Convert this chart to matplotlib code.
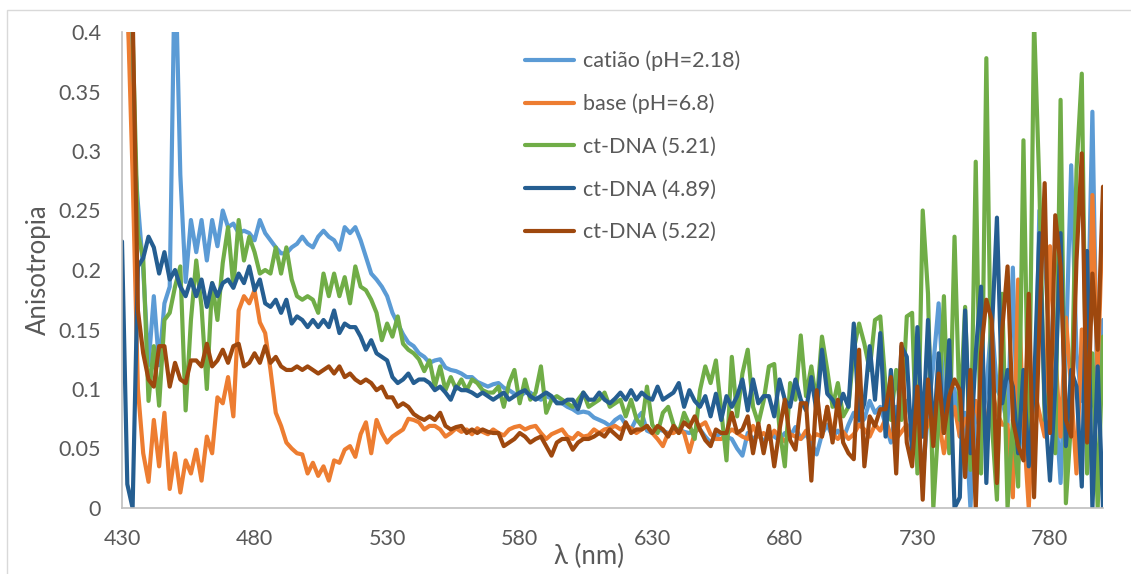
import matplotlib
matplotlib.use("Agg")
import matplotlib.pyplot as plt
import numpy as np
from matplotlib.patches import Rectangle

plt.rcParams['font.family'] = ['Lato', 'DejaVu Sans']

# wavelength grid, 2 nm steps from 430 to 800 nm
wavelength = np.arange(430, 801, 2)

catiao = [
    0.45, 0.43, 0.32, 0.256, 0.20, 0.12, 0.178, 0.12, 0.172, 0.186,
    0.47, 0.28, 0.19, 0.242, 0.215, 0.242, 0.208, 0.242, 0.22, 0.25,
    0.236, 0.239, 0.231, 0.233, 0.231, 0.225, 0.242, 0.231, 0.225, 0.219,
    0.214, 0.214, 0.219, 0.222, 0.228, 0.222, 0.219, 0.228, 0.233, 0.228,
    0.225, 0.217, 0.236, 0.231, 0.236, 0.225, 0.211, 0.197, 0.192, 0.186,
    0.178, 0.164, 0.155, 0.146, 0.139, 0.136, 0.13, 0.127, 0.122, 0.124,
    0.125, 0.118, 0.116, 0.115, 0.113, 0.11, 0.11, 0.106, 0.104, 0.102,
    0.104, 0.105, 0.101, 0.099, 0.096, 0.094, 0.097, 0.097, 0.093, 0.091,
    0.094, 0.092, 0.089, 0.088, 0.085, 0.083, 0.080, 0.081, 0.080, 0.076,
    0.074, 0.072, 0.069, 0.074, 0.077, 0.070, 0.066, 0.075, 0.080, 0.065,
    0.063, 0.066, 0.065, 0.063, 0.064, 0.066, 0.064, 0.063, 0.065, 0.066,
    0.06, 0.055, 0.060, 0.063, 0.060, 0.058, 0.05, 0.044, 0.063, 0.058,
    0.062, 0.055, 0.065, 0.06, 0.057, 0.063, 0.06, 0.068, 0.058, 0.062,
    0.055, 0.045, 0.062, 0.07, 0.06, 0.065, 0.058, 0.07, 0.08, 0.07,
    0.075, 0.09, 0.08, 0.085, 0.07, 0.055, 0.085, 0.075, 0.09, 0.07,
    0.08, 0.026, 0.08, 0.12, 0.172, 0.09, 0.07, 0.1, 0.06, 0.08,
    0.0, 0.088, 0.06, 0.1, 0.158, 0.1, 0.09, 0.07, 0.202, 0.037,
    0.09, 0.11, 0.037, 0.25, 0.216, 0.13, 0.09, 0.021, 0.13, 0.288,
    0.13, 0.09, 0.12, 0.333, 0.074, 0.158,
]

base = [
    0.45, 0.43, 0.28, 0.10, 0.046, 0.022, 0.074, 0.035, 0.080, 0.016,
    0.046, 0.013, 0.040, 0.029, 0.049, 0.023, 0.060, 0.046, 0.093, 0.088,
    0.11, 0.077, 0.166, 0.178, 0.172, 0.183, 0.156, 0.147, 0.116, 0.08,
    0.069, 0.055, 0.05, 0.046, 0.045, 0.029, 0.038, 0.027, 0.035, 0.023,
    0.040, 0.038, 0.049, 0.052, 0.043, 0.062, 0.072, 0.046, 0.074, 0.063,
    0.055, 0.060, 0.063, 0.066, 0.075, 0.074, 0.072, 0.066, 0.069, 0.069,
    0.066, 0.060, 0.063, 0.067, 0.064, 0.066, 0.062, 0.067, 0.064, 0.062,
    0.066, 0.063, 0.061, 0.066, 0.068, 0.069, 0.066, 0.068, 0.069, 0.063,
    0.058, 0.062, 0.064, 0.066, 0.060, 0.058, 0.063, 0.060, 0.061, 0.066,
    0.063, 0.066, 0.067, 0.069, 0.066, 0.069, 0.067, 0.063, 0.066, 0.069,
    0.063, 0.058, 0.052, 0.063, 0.063, 0.066, 0.063, 0.047, 0.063, 0.069,
    0.072, 0.062, 0.058, 0.058, 0.062, 0.066, 0.063, 0.060, 0.058, 0.069,
    0.060, 0.063, 0.058, 0.065, 0.060, 0.056, 0.062, 0.060, 0.058, 0.065,
    0.058, 0.062, 0.060, 0.085, 0.062, 0.058, 0.064, 0.058, 0.062, 0.07,
    0.066, 0.06, 0.07, 0.065, 0.075, 0.06, 0.058, 0.064, 0.07, 0.055,
    0.065, 0.06, 0.07, 0.08, 0.075, 0.046, 0.07, 0.085, 0.06, 0.075,
    0.07, 0.09, 0.06, 0.07, 0.1, 0.08, 0.07, 0.07, 0.009, 0.192,
    0.07, 0.0, 0.1, 0.08, 0.06, 0.22, 0.13, 0.06, 0.16, 0.1,
    0.029, 0.15, 0.05, 0.263, 0.11, 0.257,
]

dna_521 = [
    0.45, 0.44, 0.40, 0.23, 0.21, 0.09, 0.136, 0.086, 0.158, 0.164,
    0.186, 0.203, 0.082, 0.158, 0.208, 0.169, 0.10, 0.189, 0.158, 0.206,
    0.236, 0.186, 0.242, 0.208, 0.228, 0.215, 0.197, 0.20, 0.197, 0.219,
    0.197, 0.219, 0.192, 0.178, 0.175, 0.178, 0.175, 0.164, 0.197, 0.178,
    0.197, 0.178, 0.194, 0.172, 0.203, 0.186, 0.183, 0.175, 0.164, 0.141,
    0.155, 0.144, 0.161, 0.138, 0.133, 0.13, 0.125, 0.115, 0.124, 0.102,
    0.119, 0.099, 0.11, 0.1, 0.108, 0.099, 0.108, 0.105, 0.099, 0.097,
    0.097, 0.102, 0.085, 0.105, 0.116, 0.088, 0.108, 0.091, 0.097, 0.119,
    0.080, 0.091, 0.094, 0.091, 0.088, 0.085, 0.091, 0.097, 0.085, 0.088,
    0.091, 0.097, 0.085, 0.088, 0.091, 0.077, 0.091, 0.075, 0.069, 0.102,
    0.07, 0.063, 0.08, 0.085, 0.07, 0.063, 0.08, 0.07, 0.058, 0.099,
    0.119, 0.105, 0.124, 0.082, 0.040, 0.127, 0.077, 0.113, 0.133, 0.085,
    0.071, 0.09, 0.119, 0.121, 0.066, 0.035, 0.105, 0.091, 0.145, 0.094,
    0.119, 0.088, 0.144, 0.116, 0.085, 0.105, 0.077, 0.085, 0.133, 0.155,
    0.138, 0.116, 0.158, 0.161, 0.102, 0.074, 0.116, 0.074, 0.161, 0.164,
    0.029, 0.25, 0.18, 0.0, 0.074, 0.178, 0.046, 0.228, 0.074, 0.169,
    0.032, 0.291, 0.029, 0.378, 0.074, 0.007, 0.18, 0.0, 0.074, 0.018,
    0.309, 0.046, 0.41, 0.27, 0.074, 0.102, 0.046, 0.343, 0.004, 0.074,
    0.284, 0.365, 0.029, 0.13, 0.0, 0.144,
]

dna_489 = [
    0.224, 0.02, 0.0, 0.203, 0.21, 0.228, 0.219, 0.197, 0.215, 0.192,
    0.20, 0.186, 0.178, 0.192, 0.178, 0.192, 0.169, 0.189, 0.178, 0.189,
    0.192, 0.185, 0.197, 0.189, 0.203, 0.183, 0.192, 0.172, 0.169, 0.175,
    0.164, 0.175, 0.155, 0.161, 0.158, 0.152, 0.158, 0.152, 0.158, 0.152,
    0.166, 0.147, 0.155, 0.152, 0.152, 0.144, 0.133, 0.141, 0.130, 0.127,
    0.124, 0.110, 0.105, 0.108, 0.113, 0.105, 0.108, 0.108, 0.105, 0.099,
    0.102, 0.097, 0.091, 0.102, 0.099, 0.099, 0.097, 0.094, 0.097, 0.094,
    0.091, 0.094, 0.097, 0.091, 0.094, 0.097, 0.099, 0.094, 0.091, 0.094,
    0.097, 0.094, 0.088, 0.088, 0.091, 0.091, 0.083, 0.097, 0.091, 0.091,
    0.097, 0.091, 0.088, 0.092, 0.097, 0.091, 0.099, 0.091, 0.097, 0.093,
    0.091, 0.102, 0.091, 0.094, 0.097, 0.105, 0.085, 0.099, 0.09, 0.085,
    0.094, 0.077, 0.096, 0.074, 0.094, 0.085, 0.094, 0.108, 0.082, 0.108,
    0.088, 0.094, 0.094, 0.077, 0.108, 0.091, 0.085, 0.108, 0.091, 0.082,
    0.110, 0.080, 0.133, 0.096, 0.091, 0.082, 0.096, 0.085, 0.155, 0.074,
    0.088, 0.136, 0.091, 0.147, 0.060, 0.116, 0.046, 0.136, 0.127, 0.046,
    0.152, 0.060, 0.158, 0.055, 0.130, 0.063, 0.141, 0.0, 0.009, 0.166,
    0.046, 0.130, 0.186, 0.021, 0.144, 0.244, 0.088, 0.116, 0.102, 0.046,
    0.116, 0.035, 0.102, 0.231, 0.088, 0.023, 0.102, 0.231, 0.052, 0.116,
    0.102, 0.018, 0.216, 0.0, 0.119, 0.0,
]

dna_522 = [
    0.45, 0.44, 0.42, 0.166, 0.13, 0.108, 0.102, 0.136, 0.136, 0.102,
    0.122, 0.108, 0.105, 0.124, 0.124, 0.119, 0.138, 0.119, 0.124, 0.133,
    0.122, 0.136, 0.138, 0.119, 0.122, 0.13, 0.122, 0.136, 0.122, 0.127,
    0.119, 0.116, 0.116, 0.119, 0.116, 0.119, 0.116, 0.113, 0.116, 0.119,
    0.113, 0.119, 0.110, 0.113, 0.108, 0.105, 0.108, 0.105, 0.099, 0.102,
    0.093, 0.093, 0.085, 0.088, 0.085, 0.079, 0.076, 0.074, 0.077, 0.074,
    0.080, 0.069, 0.066, 0.068, 0.069, 0.063, 0.066, 0.063, 0.066, 0.064,
    0.063, 0.063, 0.052, 0.055, 0.058, 0.063, 0.060, 0.055, 0.058, 0.060,
    0.052, 0.044, 0.055, 0.058, 0.058, 0.049, 0.055, 0.058, 0.058, 0.060,
    0.063, 0.060, 0.066, 0.062, 0.058, 0.072, 0.063, 0.066, 0.066, 0.069,
    0.063, 0.069, 0.066, 0.060, 0.069, 0.063, 0.072, 0.068, 0.077, 0.066,
    0.057, 0.052, 0.066, 0.063, 0.063, 0.080, 0.063, 0.066, 0.077, 0.046,
    0.071, 0.046, 0.069, 0.035, 0.066, 0.091, 0.057, 0.049, 0.088, 0.088,
    0.023, 0.099, 0.060, 0.085, 0.055, 0.091, 0.055, 0.046, 0.041, 0.133,
    0.035, 0.077, 0.069, 0.083, 0.083, 0.110, 0.029, 0.138, 0.055, 0.035,
    0.102, 0.007, 0.108, 0.052, 0.113, 0.063, 0.094, 0.108, 0.099, 0.026,
    0.116, 0.0, 0.130, 0.175, 0.158, 0.021, 0.150, 0.203, 0.074, 0.052,
    0.040, 0.180, 0.009, 0.152, 0.273, 0.063, 0.246, 0.203, 0.074, 0.060,
    0.208, 0.298, 0.055, 0.197, 0.133, 0.27,
]

series = [
    ("catião (pH=2.18)", catiao, "#5B9BD5"),
    ("base (pH=6.8)", base, "#ED7D31"),
    ("ct-DNA (5.21)", dna_521, "#70AD47"),
    ("ct-DNA (4.89)", dna_489, "#255E91"),
    ("ct-DNA (5.22)", dna_522, "#9E480E"),
]

x_ticks = [430, 480, 530, 580, 630, 680, 730, 780]
y_ticks = [0, 0.05, 0.1, 0.15, 0.2, 0.25, 0.3, 0.35, 0.4]
y_tick_labels = ["0", "0.05", "0.1", "0.15", "0.2", "0.25", "0.3", "0.35", "0.4"]

W, H = 1131, 574
txt = "#595959"
fig = plt.figure(figsize=(W / 100, H / 100), dpi=100)
ax = fig.add_axes([122 / W, 1 - 508 / H, (1103 - 122) / W, (508 - 32) / H])

for name, vals, col in series:
    ax.plot(wavelength, vals, color=col, lw=3.0, label=name,
            solid_joinstyle="round", solid_capstyle="round")

ax.set_xlim(430, 800)
ax.set_ylim(0, 0.4)
ax.set_xticks(x_ticks)
ax.set_yticks(y_ticks)
ax.set_yticklabels(y_tick_labels)
ax.tick_params(length=0, labelsize=15.5, colors=txt)
ax.tick_params(axis="y", pad=15)
ax.tick_params(axis="x", pad=15)

for side in ("top", "right"):
    ax.spines[side].set_visible(False)
for side in ("left", "bottom"):
    ax.spines[side].set_color("#BFBFBF")
    ax.spines[side].set_linewidth(1.2)

# axis titles
fig.text(38 / W, 1 - 270 / H, "Anisotropia", rotation=90, fontsize=18.5,
         color=txt, ha="center", va="center")
fig.text(589 / W, 1 - 556 / H, "λ (nm)", fontsize=18.5, color=txt,
         ha="center", va="center")

ax.legend(loc="upper left", bbox_to_anchor=(516 / W, 1 - 42 / H),
          bbox_transform=fig.transFigure, frameon=False, fontsize=15.5,
          labelcolor=txt, handlelength=2.3, handletextpad=0.4,
          labelspacing=1.05, borderaxespad=0)

# chart border
fig.add_artist(Rectangle((7 / W, -0.1), 1.2, 1 - 10 / H + 0.1,
                         transform=fig.transFigure, fill=False,
                         edgecolor="#D9D9D9", lw=1.0))

fig.savefig("out.png", dpi=100)
